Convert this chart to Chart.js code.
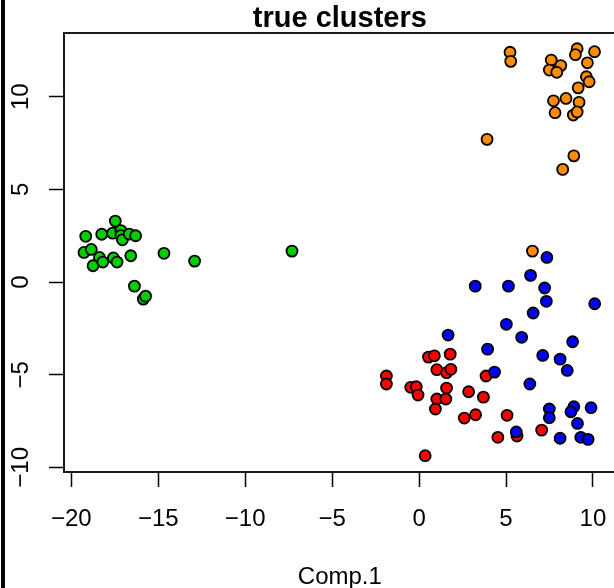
<!DOCTYPE html>
<html>
<head>
<meta charset="utf-8">
<script src="https://cdn.jsdelivr.net/npm/chart.js@4"></script>
<style>
  html, body { margin: 0; padding: 0; background: #fff; overflow: hidden; }
  #wrap { width: 614px; height: 588px; }
</style>
</head>
<body>
<div id="wrap"><canvas id="plot" width="614" height="588"></canvas></div>
<script>
// values (Comp.1 vs Comp.2, coloured by true cluster)
const greenX = [-17.47, -19.17, -18.25, -17.62, -17.15, -17.15, -17.06, -16.67, -16.30, -19.27, -18.85, -18.38,
  -18.75, -18.19, -17.58, -17.37, -16.58, -14.67, -12.91, -7.31, -16.37, -15.86, -15.73];
const greenY = [3.29, 2.47, 2.58, 2.64, 2.78, 2.51, 2.28, 2.59, 2.50, 1.60, 1.76, 1.33,
  0.88, 1.08, 1.30, 1.08, 1.42, 1.55, 1.13, 1.67, -0.22, -0.92, -0.76];

const orangeX = [5.23, 5.27, 7.60, 8.15, 7.49, 7.92, 9.09, 8.99, 10.09, 9.68, 9.62, 9.78,
  9.15, 8.45, 7.73, 9.20, 7.82, 8.87, 9.09, 3.91, 8.90, 8.26, 6.52];
const orangeY = [12.40, 11.91, 11.98, 11.68, 11.44, 11.32, 12.59, 12.27, 12.43, 11.83, 11.08, 10.81,
  10.48, 9.91, 9.78, 9.70, 9.14, 9.01, 9.18, 7.70, 6.81, 6.08, 1.67];

const blueX = [7.35, 3.23, 5.14, 6.41, 7.22, 7.32, 10.10, 6.56, 5.02, 1.67, 5.90, 8.83, 3.94, 7.11,
  8.11, 8.52, 4.34, 6.37, 7.49, 7.49, 8.90, 8.73, 9.89, 9.11, 5.59, 8.11, 9.30, 9.72];
const blueY = [1.33, -0.22, -0.22, 0.36, -0.32, -1.04, -1.17, -1.67, -2.28, -2.86, -2.98, -3.22, -3.62, -3.96,
  -4.16, -4.77, -4.86, -5.50, -6.85, -7.32, -6.73, -7.00, -6.78, -7.63, -8.09, -8.43, -8.38, -8.49];

const redX = [-1.88, -1.88, 0.54, 0.88, 1.79, 1.02, 1.58, 1.83, -0.48, -0.16, -0.06, 1.58, 1.02,
  1.54, 0.94, 2.85, 3.70, 3.85, 3.25, 2.60, 5.06, 7.05, 4.53, 5.63, 0.35];
const redY = [-5.07, -5.50, -4.05, -3.98, -3.89, -4.73, -4.89, -4.71, -5.68, -5.65, -6.10, -5.72, -6.31,
  -6.31, -6.85, -5.92, -6.21, -5.07, -7.16, -7.34, -7.19, -7.99, -8.38, -8.31, -9.37];

const xTicks = [-20, -15, -10, -5, 0, 5, 10];
const yTicks = [-10, -5, 0, 5, 10];
// the R plot box runs to about 11.3 on the right, past the picture's edge (10.79)
const xRange = [-20.42, 10.79];
const xBoxRight = 11.31;
const yRange = [-10.25, 13.44];

const titleText = 'true clusters';
const xLabel = 'Comp.1';

const FONT = '"Liberation Sans", Arial, Helvetica, sans-serif';

function pts(xs, ys) {
  return xs.map((x, i) => ({ x: x, y: ys[i] }));
}

function minusSign(v) {
  return String(v).replace('-', '\u2212');
}

function series(label, xs, ys, colour) {
  return {
    label: label,
    data: pts(xs, ys),
    pointRadius: 5.5,
    pointBorderWidth: 1.8,
    pointBorderColor: '#000',
    pointBackgroundColor: colour,
    showLine: false
  };
}

// R-style frame, titles centred on the full box, and the black rule at the left edge
const framePlugin = {
  id: 'frame',
  beforeDraw(chart) {
    const ctx = chart.ctx;
    ctx.save();
    ctx.fillStyle = '#fff';
    ctx.fillRect(0, 0, chart.width, chart.height);
    ctx.restore();
  },
  afterDraw(chart) {
    const ctx = chart.ctx;
    const a = chart.chartArea;
    const xs = chart.scales.x;
    const boxRight = xs.getPixelForValue(xBoxRight);
    const mid = (a.left + boxRight) / 2;
    ctx.save();
    ctx.strokeStyle = '#1a1a1a';
    ctx.lineWidth = 2;
    ctx.strokeRect(a.left, a.top, boxRight - a.left, a.bottom - a.top);

    ctx.fillStyle = '#000';
    ctx.textAlign = 'center';
    ctx.textBaseline = 'alphabetic';
    ctx.font = 'bold 29px ' + FONT;
    ctx.fillText(titleText, mid, 27);
    ctx.font = '24px ' + FONT;
    ctx.fillText(xLabel, mid, 584);

    ctx.fillRect(1, 0, 4, chart.height);
    ctx.restore();
  }
};

function axisOpts(range, ticks, isX) {
  return {
    type: 'linear',
    min: range[0],
    max: range[1],
    border: { display: false },
    grid: {
      display: true,
      drawOnChartArea: false,
      drawTicks: true,
      tickLength: 15,
      tickWidth: 1.5,
      tickColor: '#000'
    },
    afterBuildTicks(scale) {
      scale.ticks = ticks.map(v => ({ value: v }));
    },
    afterFit(scale) {
      // no extra room for overhanging tick labels: the frame is fixed
      scale.paddingLeft = 0;
      scale.paddingRight = 0;
      scale.paddingTop = 0;
      scale.paddingBottom = 0;
      if (isX) scale.height = 116;
      else scale.width = 64;
    },
    ticks: {
      autoSkip: false,
      color: '#000',
      font: { family: FONT, size: 24, lineHeight: 1.2 },
      padding: isX ? 18 : 7,
      minRotation: isX ? 0 : 90,
      maxRotation: isX ? 0 : 90,
      crossAlign: isX ? 'near' : 'center',
      callback: v => minusSign(v)
    }
  };
}

new Chart(document.getElementById('plot'), {
  type: 'scatter',
  data: {
    // first dataset is painted last, so blue sits over red as in the reference
    datasets: [
      series('blue', blueX, blueY, '#0000FF'),
      series('red', redX, redY, '#FF0000'),
      series('orange', orangeX, orangeY, '#FF8C00'),
      series('green', greenX, greenY, '#00CD00')
    ]
  },
  options: {
    responsive: false,
    animation: false,
    events: [],
    clip: false,
    layout: { padding: { left: 0, right: 0, top: 33, bottom: 0 } },
    plugins: {
      legend: { display: false },
      tooltip: { enabled: false },
      title: { display: false }
    },
    scales: {
      x: axisOpts(xRange, xTicks, true),
      y: axisOpts(yRange, yTicks, false)
    }
  },
  plugins: [framePlugin]
});
</script>
</body>
</html>
